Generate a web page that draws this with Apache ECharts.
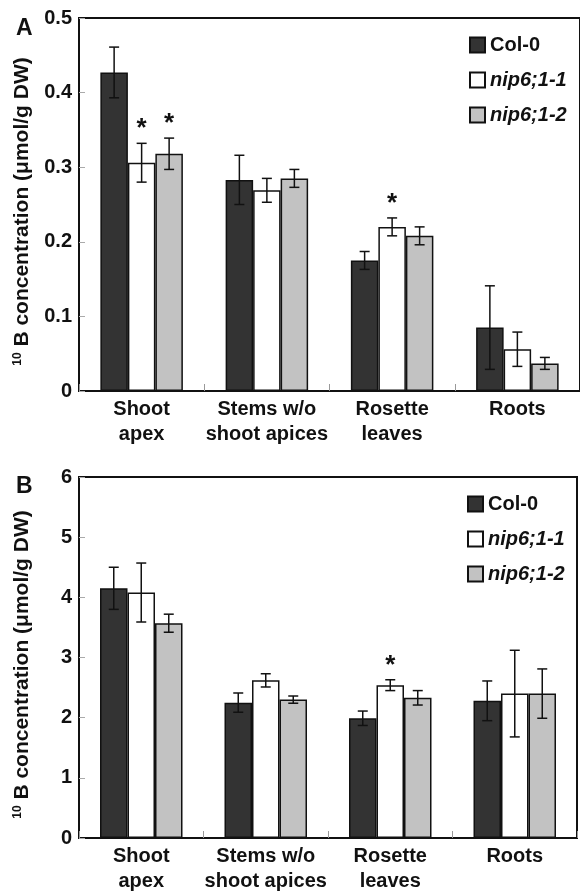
<!DOCTYPE html>
<html>
<head>
<meta charset="utf-8">
<script src="https://cdn.jsdelivr.net/npm/echarts@6/dist/echarts.min.js"></script>
<style>
  html, body { margin: 0; padding: 0; background: #fff; }
  #chart { width: 580px; height: 894px; }
</style>
</head>
<body>
<div id="chart"></div>
<script>
// data
const categories = ["Shoot\napex", "Stems w/o\nshoot apices", "Rosette\nleaves", "Roots"];
const genotypes = ["Col-0", "nip6;1-1", "nip6;1-2"];

// panel A (0.0 - 0.5)
const col0A = [0.427, 0.283, 0.175, 0.085];
const col0A_err = [0.034, 0.033, 0.012, 0.056];
const nip1A = [0.306, 0.269, 0.220, 0.056];
const nip1A_err = [0.026, 0.016, 0.012, 0.023];
const nip2A = [0.318, 0.285, 0.208, 0.037];
const nip2A_err = [0.021, 0.012, 0.012, 0.008];
const col0A_sig = [0, 0, 0, 0];
const nip1A_sig = [1, 0, 1, 0];
const nip2A_sig = [1, 0, 0, 0];
const ticksA = { min: 0, max: 0.5, interval: 0.1 };

// panel B (0 - 6)
const col0B = [4.15, 2.25, 1.99, 2.28];
const col0B_err = [0.35, 0.16, 0.12, 0.33];
const nip1B = [4.08, 2.62, 2.54, 2.40];
const nip1B_err = [0.49, 0.11, 0.09, 0.72];
const nip2B = [3.57, 2.30, 2.33, 2.40];
const nip2B_err = [0.15, 0.06, 0.12, 0.41];
const col0B_sig = [0, 0, 0, 0];
const nip1B_sig = [0, 0, 1, 0];
const nip2B_sig = [0, 0, 0, 0];
const ticksB = { min: 0, max: 6, interval: 1 };

const FONT = "Liberation Sans, Arial, sans-serif";
const BAR_W = 27.5;
const colors = ["#333333", "#ffffff", "#c2c2c2"];

const chart = echarts.init(document.getElementById("chart"));

// [catIndex, genoIndex, mean, err, sig]
function errRows(means, errs, sigs) {
  const rows = [];
  means.forEach((m, g) => {
    m.forEach((v, c) => rows.push([c, g, v, errs[g][c], sigs[g][c]]));
  });
  return rows;
}

function renderErr(params, api) {
  const c = api.value(0), g = api.value(1), m = api.value(2), e = api.value(3), s = api.value(4);
  const x = api.coord([c, m])[0] + (g - 1) * BAR_W;
  const yt = api.coord([c, m + e])[1];
  const yb = api.coord([c, m - e])[1];
  const st = { stroke: "#111", lineWidth: 1.5 };
  const kids = [
    { type: "line", shape: { x1: x, y1: yt, x2: x, y2: yb }, style: st },
    { type: "line", shape: { x1: x - 5, y1: yt, x2: x + 5, y2: yt }, style: st },
    { type: "line", shape: { x1: x - 5, y1: yb, x2: x + 5, y2: yb }, style: st },
  ];
  if (s) {
    kids.push({
      type: "text",
      style: { text: "*", x: x, y: yt - 1, align: "center", verticalAlign: "bottom",
        font: "bold 26px " + FONT, fill: "#111" },
    });
  }
  return { type: "group", children: kids };
}

function xAxisFor(gi) {
  return {
    gridIndex: gi,
    type: "category",
    data: categories,
    axisLine: { lineStyle: { color: "#111", width: 2 } },
    axisTick: { show: true, inside: true, length: 7, lineStyle: { color: "#999" } },
    axisLabel: { color: "#111", fontSize: 20, fontWeight: "bold", fontFamily: FONT,
      lineHeight: 25, margin: 6, interval: 0 },
    splitLine: { show: false },
  };
}

function yAxisFor(gi, t) {
  return {
    gridIndex: gi,
    type: "value",
    min: t.min, max: t.max, interval: t.interval,
    name: "{sup|10} B concentration (μmol/g DW)",
    nameLocation: "middle",
    nameRotate: 90,
    nameGap: 46,
    nameTextStyle: { color: "#111", fontSize: 21, fontWeight: "bold", fontFamily: FONT,
      padding: [0, 14, 0, 0],
      rich: { sup: { fontSize: 12, fontWeight: "bold", fontFamily: FONT, verticalAlign: "top", color: "#111" } } },
    axisLine: { show: true, lineStyle: { color: "#111", width: 2 } },
    axisTick: { show: true, inside: true, length: 6, lineStyle: { color: "#aaa" } },
    axisLabel: { color: "#111", fontSize: 20, fontWeight: "bold", fontFamily: FONT, margin: 7 },
    splitLine: { show: false },
  };
}

function barSeries(gi, means) {
  return means.map((vals, g) => ({
    name: genotypes[g],
    type: "bar",
    xAxisIndex: gi, yAxisIndex: gi,
    data: vals,
    barWidth: BAR_W,
    barGap: "0%",
    itemStyle: { color: colors[g], borderColor: "#111", borderWidth: 1.5 },
    z: 2,
  }));
}

function legendFor(left, top) {
  return {
    data: genotypes,
    orient: "vertical",
    left: left, top: top,
    itemWidth: 15, itemHeight: 15, itemGap: 15,
    icon: "rect",
    selectedMode: false,
    formatter: (n) => (n === "Col-0" ? n : "{it|" + n + "}"),
    textStyle: { color: "#111", fontSize: 20, fontWeight: "bold", fontFamily: FONT,
      rich: { it: { fontStyle: "italic", fontWeight: "bold", fontSize: 20, fontFamily: FONT, color: "#111" } } },
  };
}

const meansA = [col0A, nip1A, nip2A];
const meansB = [col0B, nip1B, nip2B];

const option = {
  animation: false,
  title: [
    { text: "A", left: 11, top: 12, textStyle: { fontSize: 23, fontWeight: "bold", fontFamily: FONT, color: "#111" } },
    { text: "B", left: 11, top: 470, textStyle: { fontSize: 23, fontWeight: "bold", fontFamily: FONT, color: "#111" } },
  ],
  grid: [
    { left: 79, top: 18, width: 504, height: 373, show: true, borderColor: "#111", borderWidth: 2, backgroundColor: "transparent" },
    { left: 79, top: 477, width: 498, height: 366, show: true, borderColor: "#111", borderWidth: 2, backgroundColor: "transparent" },
  ],
  legend: [legendFor(464, 30), legendFor(462, 489)],
  xAxis: [xAxisFor(0), xAxisFor(1)],
  yAxis: [yAxisFor(0, ticksA), yAxisFor(1, ticksB)],
  series: [
    ...barSeries(0, meansA),
    ...barSeries(1, meansB),
    {
      type: "custom", xAxisIndex: 0, yAxisIndex: 0, z: 5,
      data: errRows(meansA, [col0A_err, nip1A_err, nip2A_err], [col0A_sig, nip1A_sig, nip2A_sig]),
      encode: { x: 0, y: 2 },
      renderItem: renderErr,
    },
    {
      type: "custom", xAxisIndex: 1, yAxisIndex: 1, z: 5,
      data: errRows(meansB, [col0B_err, nip1B_err, nip2B_err], [col0B_sig, nip1B_sig, nip2B_sig]),
      encode: { x: 0, y: 2 },
      renderItem: renderErr,
    },
  ],
};

chart.setOption(option);
window.addEventListener("resize", () => {
  chart.resize();
});
</script>
</body>
</html>
